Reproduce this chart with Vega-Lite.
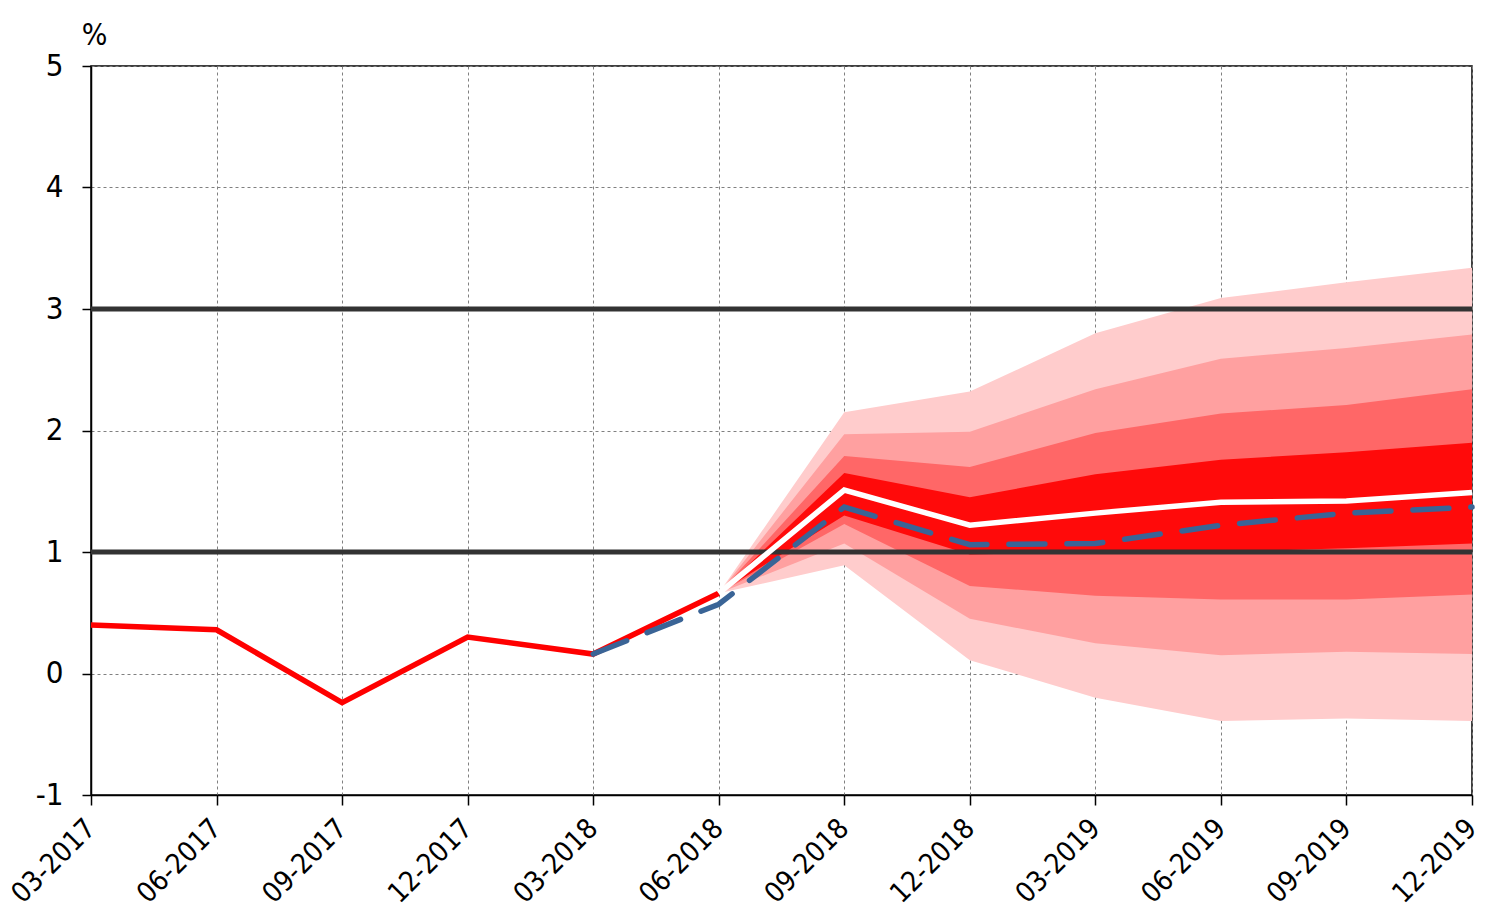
{
  "$schema": "https://vega.github.io/schema/vega-lite/v6.json",
  "width": 1381,
  "height": 729,
  "autosize": {"type": "none"},
  "padding": {"left": 91, "top": 66, "right": 39, "bottom": 127},
  "background": "white",
  "config": {
    "font": "DejaVu Sans",
    "view": {"stroke": "black", "strokeWidth": 1.5},
    "axis": {
      "domainColor": "black",
      "domainWidth": 1.5,
      "tickColor": "black",
      "tickWidth": 1.5,
      "labelColor": "black",
      "labelFont": "DejaVu Sans Condensed, DejaVu Sans",
      "labelFontSize": 31,
      "grid": true,
      "gridColor": "#808080",
      "gridDash": [3, 3],
      "gridWidth": 1
    },
    "axisX": {
      "labelAngle": -45,
      "labelAlign": "right",
      "labelBaseline": "middle",
      "labelFontSize": 28,
      "labelPadding": 19,
      "tickSize": 10,
      "title": null
    },
    "axisY": {
      "tickSize": 9,
      "labelPadding": 19,
      "titleAngle": 0,
      "titleX": 3,
      "titleY": -22,
      "titleAlign": "center",
      "titleBaseline": "alphabetic",
      "titleFont": "DejaVu Sans Condensed, DejaVu Sans",
      "titleFontSize": 30,
      "titleFontWeight": "normal",
      "titleColor": "black"
    }
  },
  "datasets": {
    "hist": [
      {"date": "03-2017", "value": 0.40},
      {"date": "06-2017", "value": 0.36},
      {"date": "09-2017", "value": -0.24},
      {"date": "12-2017", "value": 0.30},
      {"date": "03-2018", "value": 0.16},
      {"date": "06-2018", "value": 0.66}
    ],
    "central": [
      {"date": "06-2018", "value": 0.66},
      {"date": "09-2018", "value": 1.51},
      {"date": "12-2018", "value": 1.22},
      {"date": "03-2019", "value": 1.32},
      {"date": "06-2019", "value": 1.41},
      {"date": "09-2019", "value": 1.42},
      {"date": "12-2019", "value": 1.49}
    ],
    "alt": [
      {"date": "03-2018", "value": 0.16},
      {"date": "06-2018", "value": 0.57},
      {"date": "09-2018", "value": 1.37},
      {"date": "12-2018", "value": 1.06},
      {"date": "03-2019", "value": 1.07},
      {"date": "06-2019", "value": 1.22},
      {"date": "09-2019", "value": 1.32},
      {"date": "12-2019", "value": 1.37}
    ],
    "fan": [
      {"band": "outer", "date": "06-2018", "lo": 0.66, "hi": 0.66},
      {"band": "outer", "date": "09-2018", "lo": 0.89, "hi": 2.15},
      {"band": "outer", "date": "12-2018", "lo": 0.11, "hi": 2.32},
      {"band": "outer", "date": "03-2019", "lo": -0.20, "hi": 2.80},
      {"band": "outer", "date": "06-2019", "lo": -0.39, "hi": 3.09},
      {"band": "outer", "date": "09-2019", "lo": -0.37, "hi": 3.22},
      {"band": "outer", "date": "12-2019", "lo": -0.39, "hi": 3.34},
      {"band": "second", "date": "06-2018", "lo": 0.66, "hi": 0.66},
      {"band": "second", "date": "09-2018", "lo": 1.07, "hi": 1.97},
      {"band": "second", "date": "12-2018", "lo": 0.45, "hi": 1.99},
      {"band": "second", "date": "03-2019", "lo": 0.25, "hi": 2.34},
      {"band": "second", "date": "06-2019", "lo": 0.15, "hi": 2.59},
      {"band": "second", "date": "09-2019", "lo": 0.18, "hi": 2.68},
      {"band": "second", "date": "12-2019", "lo": 0.16, "hi": 2.79},
      {"band": "third", "date": "06-2018", "lo": 0.66, "hi": 0.66},
      {"band": "third", "date": "09-2018", "lo": 1.23, "hi": 1.79},
      {"band": "third", "date": "12-2018", "lo": 0.72, "hi": 1.70},
      {"band": "third", "date": "03-2019", "lo": 0.64, "hi": 1.98},
      {"band": "third", "date": "06-2019", "lo": 0.61, "hi": 2.14},
      {"band": "third", "date": "09-2019", "lo": 0.61, "hi": 2.21},
      {"band": "third", "date": "12-2019", "lo": 0.65, "hi": 2.34},
      {"band": "inner", "date": "06-2018", "lo": 0.66, "hi": 0.66},
      {"band": "inner", "date": "09-2018", "lo": 1.30, "hi": 1.65},
      {"band": "inner", "date": "12-2018", "lo": 0.98, "hi": 1.45},
      {"band": "inner", "date": "03-2019", "lo": 1.00, "hi": 1.64},
      {"band": "inner", "date": "06-2019", "lo": 1.00, "hi": 1.76},
      {"band": "inner", "date": "09-2019", "lo": 1.03, "hi": 1.82},
      {"band": "inner", "date": "12-2019", "lo": 1.07, "hi": 1.90}
    ],
    "target": [
      {"level": 1},
      {"level": 3}
    ]
  },
  "layer": [
    {
      "data": {"name": "fan"},
      "transform": [{"filter": "datum.band === 'outer'"}],
      "mark": {"type": "area", "color": "#FFCCCC", "opacity": 1},
      "encoding": {
        "x": {"field": "date", "type": "ordinal", "sort": null, "scale": {"type": "point", "padding": 0, "domain": ["03-2017", "06-2017", "09-2017", "12-2017", "03-2018", "06-2018", "09-2018", "12-2018", "03-2019", "06-2019", "09-2019", "12-2019"]}},
        "y": {"field": "lo", "type": "quantitative", "title": "%", "scale": {"domain": [-1, 5], "nice": false, "zero": false}, "axis": {"values": [-1, 0, 1, 2, 3, 4, 5], "labelExpr": "'' + datum.value"}},
        "y2": {"field": "hi"}
      }
    },
    {
      "data": {"name": "fan"},
      "transform": [{"filter": "datum.band === 'second'"}],
      "mark": {"type": "area", "color": "#FFA0A0", "opacity": 1},
      "encoding": {
        "x": {"field": "date", "type": "ordinal", "sort": null},
        "y": {"field": "lo", "type": "quantitative", "title": "%"},
        "y2": {"field": "hi"}
      }
    },
    {
      "data": {"name": "fan"},
      "transform": [{"filter": "datum.band === 'third'"}],
      "mark": {"type": "area", "color": "#FF6767", "opacity": 1},
      "encoding": {
        "x": {"field": "date", "type": "ordinal", "sort": null},
        "y": {"field": "lo", "type": "quantitative", "title": "%"},
        "y2": {"field": "hi"}
      }
    },
    {
      "data": {"name": "fan"},
      "transform": [{"filter": "datum.band === 'inner'"}],
      "mark": {"type": "area", "color": "#FF0A0A", "opacity": 1},
      "encoding": {
        "x": {"field": "date", "type": "ordinal", "sort": null},
        "y": {"field": "lo", "type": "quantitative", "title": "%"},
        "y2": {"field": "hi"}
      }
    },
    {
      "data": {"name": "target"},
      "mark": {"type": "rule", "color": "#333333", "strokeWidth": 5},
      "encoding": {
        "y": {"field": "level", "type": "quantitative", "title": "%"}
      }
    },
    {
      "data": {"name": "hist"},
      "mark": {"type": "line", "color": "#FF0000", "strokeWidth": 5.5},
      "encoding": {
        "x": {"field": "date", "type": "ordinal", "sort": null},
        "y": {"field": "value", "type": "quantitative", "title": "%"}
      }
    },
    {
      "data": {"name": "central"},
      "mark": {"type": "line", "color": "#FFFFFF", "strokeWidth": 5.5},
      "encoding": {
        "x": {"field": "date", "type": "ordinal", "sort": null},
        "y": {"field": "value", "type": "quantitative", "title": "%"}
      }
    },
    {
      "data": {"name": "alt"},
      "mark": {"type": "line", "color": "#3A6496", "strokeWidth": 5.5, "strokeDash": [36, 22], "strokeCap": "round"},
      "encoding": {
        "x": {"field": "date", "type": "ordinal", "sort": null},
        "y": {"field": "value", "type": "quantitative", "title": "%"}
      }
    }
  ]
}
